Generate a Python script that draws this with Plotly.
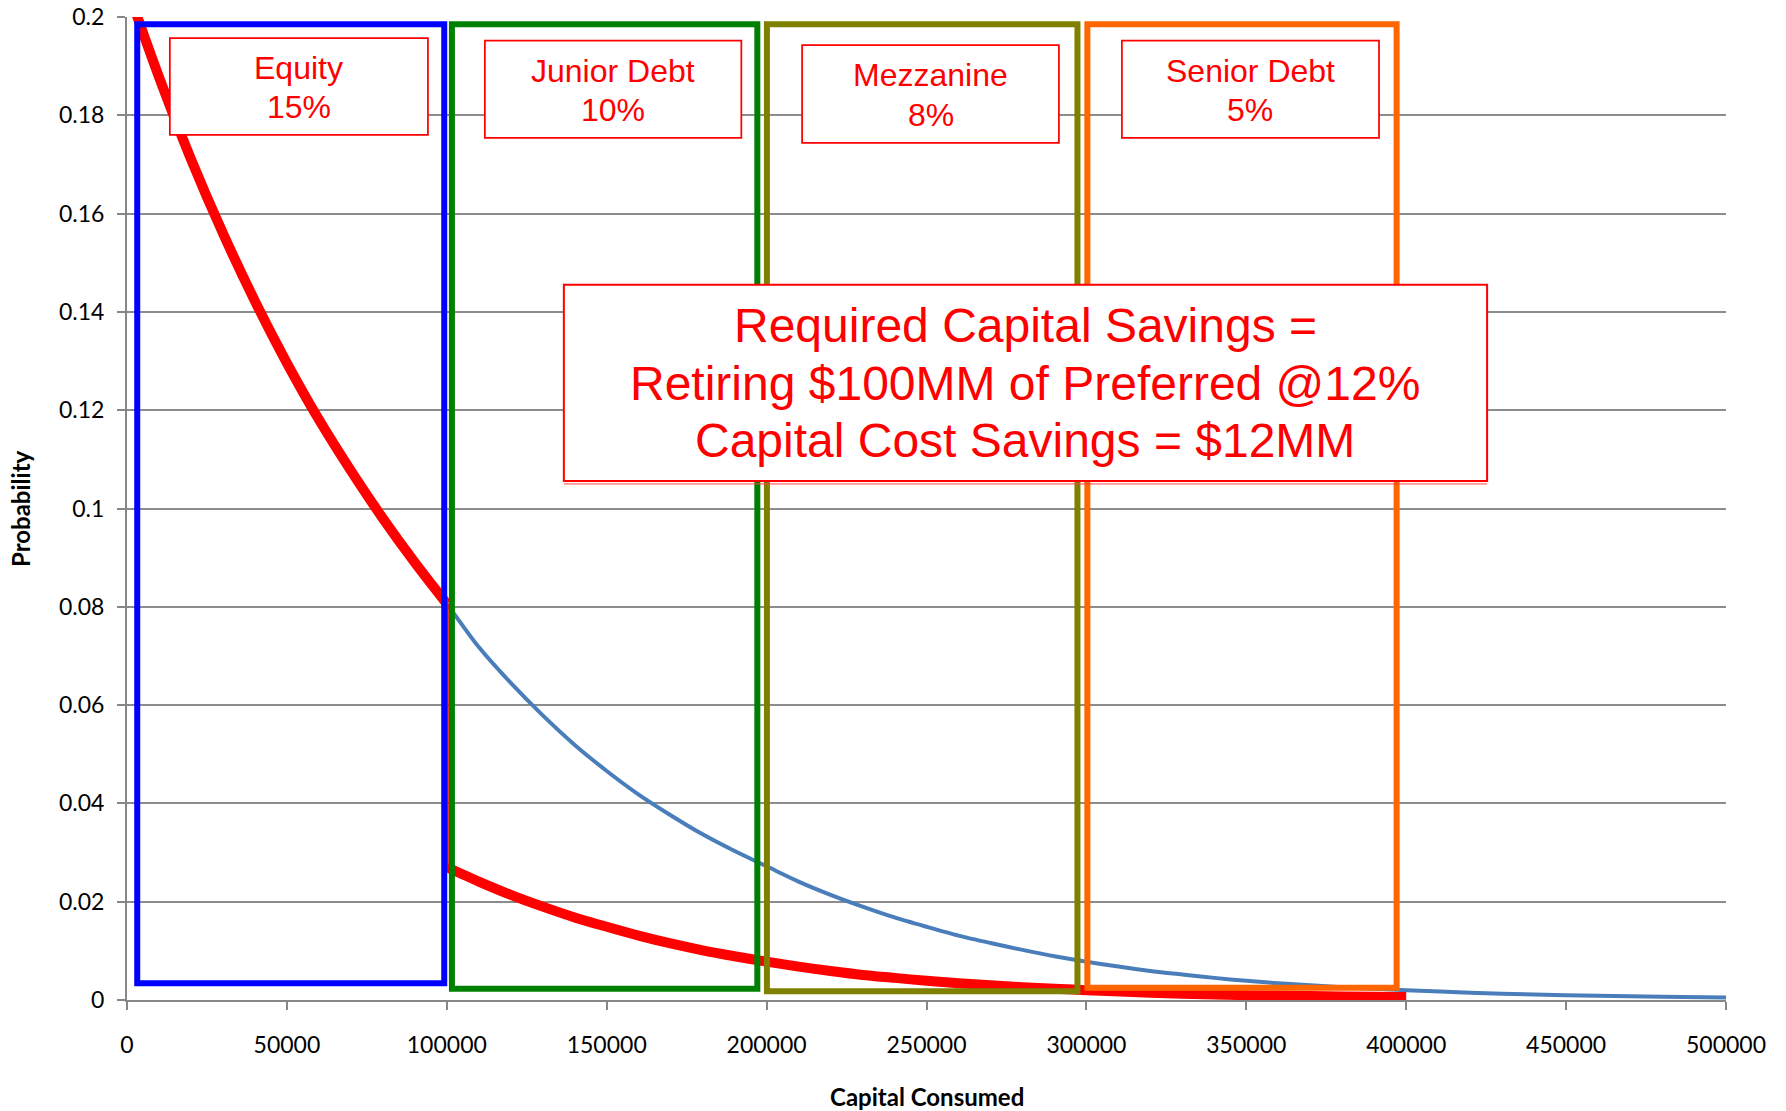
import plotly.graph_objects as go

# ---------------- data ----------------
blue_x = [0, 10000, 20000, 30000, 40000, 50000, 60000, 70000, 80000, 90000,
          100000, 110000, 120000, 130000, 140000, 150000, 160000, 170000, 180000, 190000,
          200000, 210000, 220000, 230000, 240000, 250000, 260000, 270000, 280000, 290000,
          300000, 310000, 320000, 330000, 340000, 350000, 360000, 370000, 380000, 390000,
          400000, 420000, 440000, 460000, 480000, 500000]
blue_y = [0.2060, 0.1878, 0.1711, 0.1560, 0.1422, 0.1296, 0.1181, 0.1077, 0.0980, 0.0890,
          0.0806, 0.0718, 0.0645, 0.0579, 0.0519, 0.0466, 0.0418, 0.0376, 0.0337, 0.0303,
          0.0272, 0.0241, 0.0214, 0.0190, 0.0168, 0.0149, 0.0131, 0.0116, 0.0102, 0.0089,
          0.0078, 0.0068, 0.0059, 0.0052, 0.0045, 0.0039, 0.0034, 0.0030, 0.0026, 0.0023,
          0.0020, 0.0015, 0.0011, 0.00086, 0.00065, 0.00049]

red_x = [0, 10000, 20000, 30000, 40000, 50000, 60000, 70000, 80000, 90000, 100000,
         100000, 110000, 120000, 130000, 140000, 150000, 160000, 170000, 180000, 190000,
         200000, 210000, 220000, 230000, 240000, 250000, 260000, 270000, 280000, 290000,
         300000, 320000, 340000, 360000, 380000, 400000]
red_y = [0.2060, 0.1878, 0.1711, 0.1560, 0.1422, 0.1296, 0.1181, 0.1077, 0.0980, 0.0890, 0.0806,
         0.0270, 0.0241, 0.0214, 0.0190, 0.0168, 0.0149, 0.0131, 0.0115, 0.0101, 0.0089,
         0.0078, 0.0068, 0.0059, 0.0051, 0.0045, 0.0039, 0.0034, 0.0030, 0.0026, 0.0023,
         0.0020, 0.0015, 0.0011, 0.0009, 0.0007, 0.0006]

tranche_names = ["Equity", "Junior Debt", "Mezzanine", "Senior Debt"]
tranche_rates = ["15%", "10%", "8%", "5%"]

x_tick_vals = [0, 50000, 100000, 150000, 200000, 250000, 300000, 350000, 400000, 450000, 500000]
x_tick_text = ["0", "50000", "100000", "150000", "200000", "250000", "300000", "350000",
               "400000", "450000", "500000"]
y_tick_vals = [0, 0.02, 0.04, 0.06, 0.08, 0.1, 0.12, 0.14, 0.16, 0.18, 0.2]
y_tick_text = ["0", "0.02", "0.04", "0.06", "0.08", "0.1", "0.12", "0.14", "0.16", "0.18", "0.2"]

big_text = ["Required Capital Savings =",
            "Retiring $100MM of Preferred @12%",
            "Capital Cost Savings = $12MM"]

x_title = "Capital Consumed"
y_title = "Probability"

# ---------------- layout geometry (styling) ----------------
tranche_colors = ["#0000FF", "#008000", "#808000", "#FF6600"]
tranche_box_x0 = [3200, 101600, 200100, 300300]
tranche_box_x1 = [99200, 197100, 297200, 397000]
tranche_box_y0 = [0.0034, 0.0023, 0.0018, 0.0025]
tranche_box_y1 = [0.1985, 0.1985, 0.1985, 0.1985]

label_x0 = [13400, 111900, 211100, 311100]
label_x1 = [94100, 192100, 291400, 391500]
label_y0 = [0.1760, 0.1754, 0.1744, 0.1754]
label_y1 = [0.1957, 0.1952, 0.1943, 0.1952]
label_dy = 0.0040
label_shift = -0.0002

big_x0, big_x1, big_y0, big_y1 = 136600, 425300, 0.1056, 0.1455
big_line_y = [0.1372, 0.1255, 0.1138]

W, H = 1786, 1111
L, R, T, B = 127, 60, 17, 111

# split the red series at the jump (repeated x value)
jump = [i for i in range(1, len(red_x)) if red_x[i] == red_x[i - 1]][0]

fig = go.Figure()
fig.add_trace(go.Scatter(x=blue_x, y=blue_y, mode="lines",
                         line=dict(color="#4A7EBB", width=4, shape="spline", smoothing=0.8),
                         hoverinfo="skip", showlegend=False))
fig.add_trace(go.Scatter(x=red_x[:jump], y=red_y[:jump], mode="lines",
                         line=dict(color="#FF0000", width=10, shape="spline", smoothing=0.8),
                         hoverinfo="skip", showlegend=False))
fig.add_trace(go.Scatter(x=red_x[jump - 1:jump + 1], y=red_y[jump - 1:jump + 1], mode="lines",
                         line=dict(color="#FF0000", width=4),
                         hoverinfo="skip", showlegend=False))
fig.add_trace(go.Scatter(x=red_x[jump:], y=red_y[jump:], mode="lines",
                         line=dict(color="#FF0000", width=10, shape="spline", smoothing=0.8),
                         hoverinfo="skip", showlegend=False))

shapes = []
for i in range(len(tranche_names)):
    shapes.append(dict(type="rect", xref="x", yref="y", layer="above",
                       x0=tranche_box_x0[i], x1=tranche_box_x1[i],
                       y0=tranche_box_y0[i], y1=tranche_box_y1[i],
                       line=dict(color=tranche_colors[i], width=6),
                       fillcolor="rgba(0,0,0,0)"))
for i in range(len(tranche_names)):
    shapes.append(dict(type="rect", xref="x", yref="y", layer="above",
                       x0=label_x0[i], x1=label_x1[i], y0=label_y0[i], y1=label_y1[i],
                       line=dict(color="#FF0000", width=1.75), fillcolor="white"))
shapes.append(dict(type="rect", xref="x", yref="y", layer="above",
                   x0=big_x0, x1=big_x1, y0=big_y0, y1=big_y1,
                   line=dict(color="#FF0000", width=2), fillcolor="white"))
shapes.append(dict(type="line", xref="x", yref="y", layer="above",
                   x0=big_x0, x1=big_x1, y0=big_y0 - 0.0006, y1=big_y0 - 0.0006,
                   line=dict(color="#FF4040", width=1)))

annotations = []
lab_font = dict(family="Liberation Sans, Arial, sans-serif", size=32, color="#FF0000")
for i in range(len(tranche_names)):
    cx = (label_x0[i] + label_x1[i]) / 2
    cy = (label_y0[i] + label_y1[i]) / 2 + label_shift
    annotations.append(dict(x=cx, y=cy + label_dy, xref="x", yref="y", text=tranche_names[i],
                            showarrow=False, font=lab_font, xanchor="center", yanchor="middle"))
    annotations.append(dict(x=cx, y=cy - label_dy, xref="x", yref="y", text=tranche_rates[i],
                            showarrow=False, font=lab_font, xanchor="center", yanchor="middle"))
big_font = dict(family="Liberation Sans, Arial, sans-serif", size=48, color="#FF0000")
for t, yy in zip(big_text, big_line_y):
    annotations.append(dict(x=(big_x0 + big_x1) / 2, y=yy, xref="x", yref="y", text=t,
                            showarrow=False, font=big_font, xanchor="center", yanchor="middle"))

title_font = dict(family="Lato, Calibri, sans-serif", size=24, color="black")
annotations.append(dict(x=0.5, y=-0.0977, xref="paper", yref="paper", text="<b>%s</b>" % x_title,
                        showarrow=False, font=title_font, xanchor="center", yanchor="middle"))
annotations.append(dict(x=-0.0666, y=0.5, xref="paper", yref="paper", text="<b>%s</b>" % y_title,
                        showarrow=False, font=title_font, xanchor="center", yanchor="middle",
                        textangle=-90))

tick_font = dict(family="Lato, Calibri, sans-serif", size=23, color="black")
fig.update_layout(
    width=W, height=H,
    margin=dict(l=L, r=R, t=T, b=B, pad=0, autoexpand=False),
    paper_bgcolor="white", plot_bgcolor="white",
    shapes=shapes, annotations=annotations,
    showlegend=False,
    xaxis=dict(range=[0, 500000], tickvals=x_tick_vals, ticktext=x_tick_text,
               showgrid=False, zeroline=False, showline=True, linecolor="#878787", linewidth=2,
               ticks="outside", ticklen=8, tickwidth=2, tickcolor="#878787", automargin=False,
               tickfont=tick_font, ticklabelstandoff=15, fixedrange=True),
    yaxis=dict(range=[0, 0.2], tickvals=y_tick_vals, ticktext=y_tick_text,
               showgrid=True, gridcolor="#8c8c8c", gridwidth=2, zeroline=False,
               showline=True, linecolor="#878787", linewidth=2, automargin=False,
               ticks="outside", ticklen=8, tickwidth=2, tickcolor="#878787",
               tickfont=tick_font, ticklabelstandoff=8, fixedrange=True),
)

fig.write_html("out.html")
